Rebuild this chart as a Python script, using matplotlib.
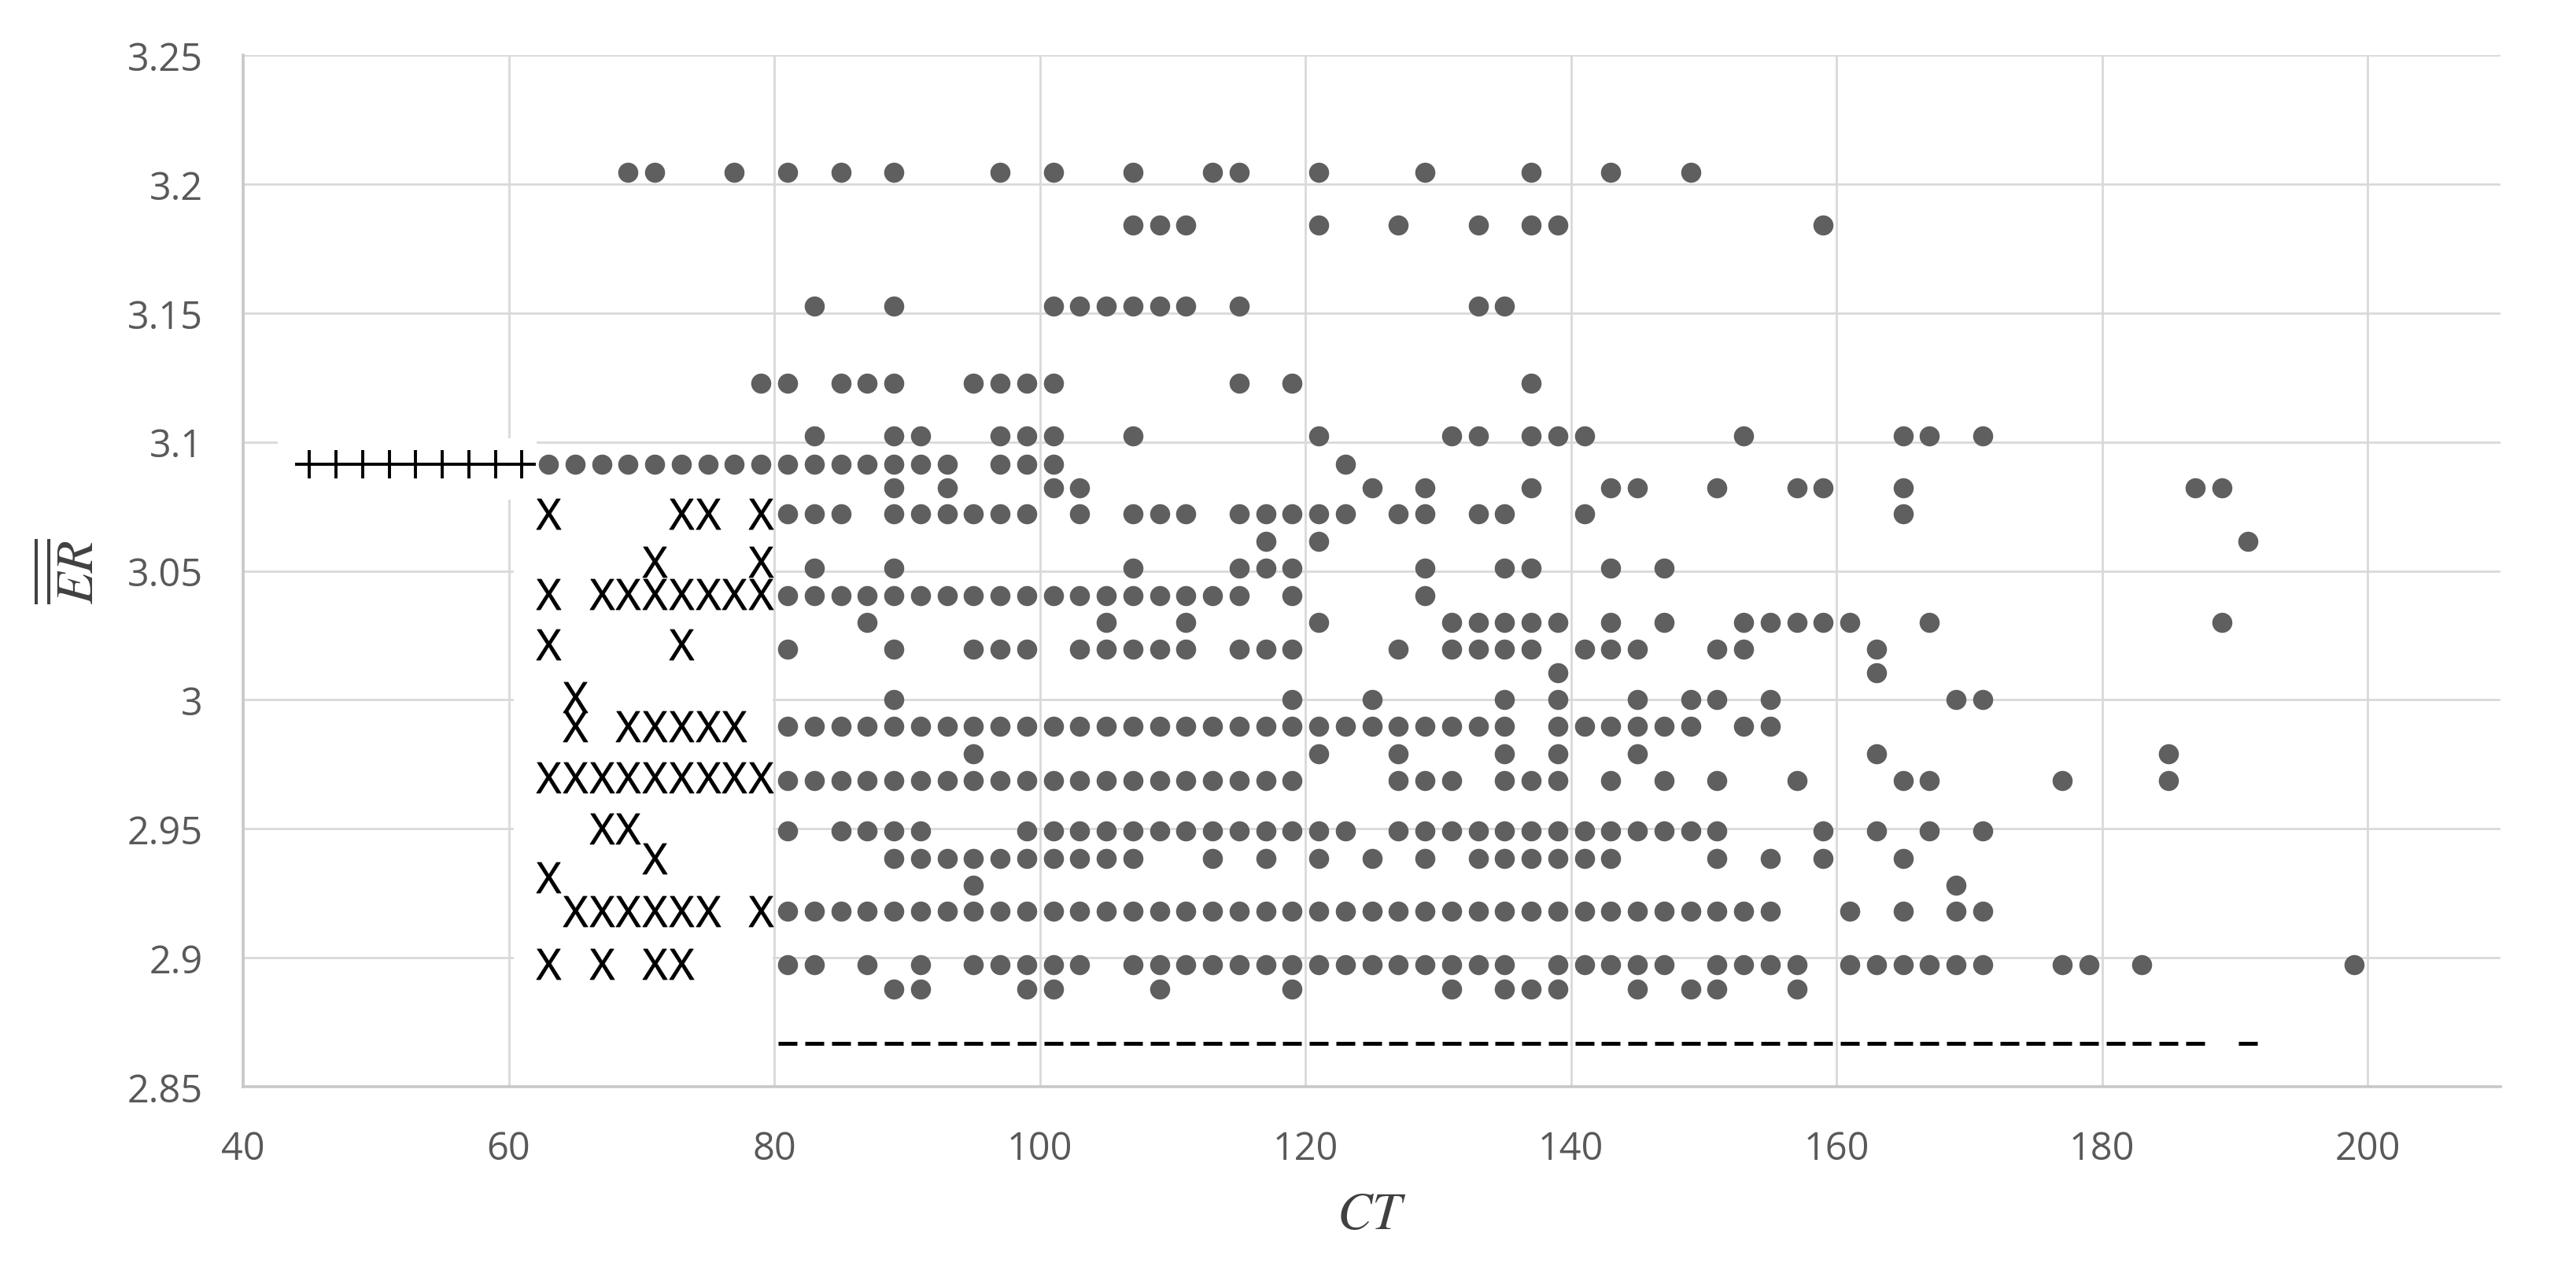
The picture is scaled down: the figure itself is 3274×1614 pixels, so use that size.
import numpy as np
import matplotlib.pyplot as plt
from matplotlib.patches import Rectangle

plt.rcParams['font.family'] = ['Open Sans', 'DejaVu Sans']
plt.rcParams['mathtext.fontset'] = 'stix'

# filled dots: one CT list per ER level
row_3205 = [69, 71, 77, 81, 85, 89, 97, 101, 107, 113, 115, 121, 129, 137, 143, 149]
row_3184 = [107, 109, 111, 121, 127, 133, 137, 139, 159]
row_3153 = [83, 89, 101, 103, 105, 107, 109, 111, 115, 133, 135]
row_3123 = [79, 81, 85, 87, 89, 95, 97, 99, 101, 115, 119, 137]
row_3102 = [83, 89, 91, 97, 99, 101, 107, 121, 131, 133, 137, 139, 141, 153, 165, 167, 171]
row_3092 = [63, 65, 67, 69, 71, 73, 75, 77, 79, 81, 83, 85, 87, 89, 91, 93, 97, 99, 101, 123]
row_3082 = [89, 93, 101, 103, 125, 129, 137, 143, 145, 151, 157, 159, 165, 187, 189]
row_3072 = [81, 83, 85, 89, 91, 93, 95, 97, 99, 103, 107, 109, 111, 115, 117, 119, 121, 123,
            127, 129, 133, 135, 141, 165]
row_3062 = [117, 121, 191]
row_3051 = [83, 89, 107, 115, 117, 119, 129, 135, 137, 143, 147]
row_3040 = [81, 83, 85, 87, 89, 91, 93, 95, 97, 99, 101, 103, 105, 107, 109, 111, 113, 115,
            119, 129]
row_3030 = [87, 105, 111, 121, 131, 133, 135, 137, 139, 143, 147, 153, 155, 157, 159, 161,
            167, 189]
row_3020 = [81, 89, 95, 97, 99, 103, 105, 107, 109, 111, 115, 117, 119, 127, 131, 133, 135,
            137, 141, 143, 145, 151, 153, 163]
row_3011 = [139, 163]
row_3000 = [89, 119, 125, 135, 139, 145, 149, 151, 155, 169, 171]
row_2990 = [81, 83, 85, 87, 89, 91, 93, 95, 97, 99, 101, 103, 105, 107, 109, 111, 113, 115,
            117, 119, 121, 123, 125, 127, 129, 131, 133, 135, 139, 141, 143, 145, 147, 149,
            153, 155]
row_2979 = [95, 121, 127, 135, 139, 145, 163, 185]
row_2969 = [81, 83, 85, 87, 89, 91, 93, 95, 97, 99, 101, 103, 105, 107, 109, 111, 113, 115,
            117, 119, 127, 129, 131, 135, 137, 139, 143, 147, 151, 157, 165, 167, 177, 185]
row_2949 = [81, 85, 87, 89, 91, 99, 101, 103, 105, 107, 109, 111, 113, 115, 117, 119, 121,
            123, 127, 129, 131, 133, 135, 137, 139, 141, 143, 145, 147, 149, 151, 159, 163,
            167, 171]
row_2939 = [89, 91, 93, 95, 97, 99, 101, 103, 105, 107, 113, 117, 121, 125, 129, 133, 135,
            137, 139, 141, 143, 151, 155, 159, 165]
row_2928 = [95, 169]
row_2918 = [81, 83, 85, 87, 89, 91, 93, 95, 97, 99, 101, 103, 105, 107, 109, 111, 113, 115,
            117, 119, 121, 123, 125, 127, 129, 131, 133, 135, 137, 139, 141, 143, 145, 147,
            149, 151, 153, 155, 161, 165, 169, 171]
row_2897 = [81, 83, 87, 91, 95, 97, 99, 101, 103, 107, 109, 111, 113, 115, 117, 119, 121,
            123, 125, 127, 129, 131, 133, 135, 139, 141, 143, 145, 147, 151, 153, 155, 157,
            161, 163, 165, 167, 169, 171, 177, 179, 183, 199]
row_2888 = [89, 91, 99, 101, 109, 119, 131, 135, 137, 139, 145, 149, 151, 157]

dot_rows = [(3.2046, row_3205), (3.1842, row_3184), (3.1528, row_3153), (3.1229, row_3123),
            (3.1022, row_3102), (3.0915, row_3092), (3.0822, row_3082), (3.0721, row_3072),
            (3.0615, row_3062), (3.0510, row_3051), (3.0403, row_3040), (3.0300, row_3030),
            (3.0196, row_3020), (3.0106, row_3011), (3.0000, row_3000), (2.9897, row_2990),
            (2.9791, row_2979), (2.9687, row_2969), (2.9491, row_2949), (2.9385, row_2939),
            (2.9280, row_2928), (2.9180, row_2918), (2.8972, row_2897), (2.8877, row_2888)]

# "X" marks
x_3072 = [63, 73, 75, 79]
x_3054 = [71, 79]
x_3041 = [63, 67, 69, 71, 73, 75, 77, 79]
x_3021 = [63, 73]
x_3001 = [65]
x_2990 = [65, 69, 71, 73, 75, 77]
x_2970 = [63, 65, 67, 69, 71, 73, 75, 77, 79]
x_2950 = [67, 69]
x_2939 = [71]
x_2931 = [63]
x_2918 = [65, 67, 69, 71, 73, 75, 79]
x_2898 = [63, 67, 71, 73]

cross_rows = [(3.0720, x_3072), (3.0535, x_3054), (3.0410, x_3041), (3.0214, x_3021),
              (3.0010, x_3001), (2.9897, x_2990), (2.9699, x_2970), (2.9500, x_2950),
              (2.9385, x_2939), (2.9313, x_2931), (2.9180, x_2918), (2.8976, x_2898)]

# "+" marks
plus_ct = [45, 47, 49, 51, 53, 55, 57, 59, 61]
plus_er = 3.0915

# "-" marks
dash_ct = [81, 83, 85, 87, 89, 91, 93, 95, 97, 99, 101, 103, 105, 107, 109, 111, 113, 115,
           117, 119, 121, 123, 125, 127, 129, 131, 133, 135, 137, 139, 141, 143, 145, 147,
           149, 151, 153, 155, 157, 159, 161, 163, 165, 167, 169, 171, 173, 175, 177, 179,
           181, 183, 185, 187, 191]
dash_er = 2.8668

xticks = [40, 60, 80, 100, 120, 140, 160, 180, 200]
yticks = [2.85, 2.9, 2.95, 3.0, 3.05, 3.1, 3.15, 3.2, 3.25]
ytick_labels = ['2.85', '2.9', '2.95', '3', '3.05', '3.1', '3.15', '3.2', '3.25']

fig = plt.figure(figsize=(16.37, 8.075), dpi=200)
ax = fig.add_axes([0.0944, 0.1443, 0.8763, 0.8117])

for lvl, cts in dot_rows:
    ax.plot(cts, [lvl] * len(cts), 'o', ms=9.2, color='#5f5f5f', mec='none', zorder=3)

for lvl, cts in cross_rows:
    ax.plot(cts, [lvl] * len(cts), marker=r'$\mathregular{X}$', ls='none', ms=14,
            color='black', mew=0.3, zorder=3)

ax.plot(plus_ct, [plus_er] * len(plus_ct), '+', ms=13, mew=1.4, color='black', zorder=3)
ax.plot(dash_ct, [dash_er] * len(dash_ct), '_', ms=8.6, mew=1.8, color='black', zorder=3)

# blank patches over the grid behind the marks on the left
ax.add_patch(Rectangle((42.6, 3.0775), 19.5, 0.024, fc='white', ec='none', zorder=1))
ax.add_patch(Rectangle((60.35, 2.8505), 19.5, 0.2295, fc='white', ec='none', zorder=1))

ax.set_xlim(40, 210)
ax.set_ylim(2.85, 3.25)
ax.set_xticks(xticks)
ax.set_yticks(yticks)
ax.set_yticklabels(ytick_labels)
ax.set_axisbelow(True)
ax.grid(True, color='#d9d9d9', lw=1.0)
for s in ['top', 'right']:
    ax.spines[s].set_visible(False)
for s in ['left', 'bottom']:
    ax.spines[s].set_color('#c8c8c8')
    ax.spines[s].set_linewidth(1.3)
ax.tick_params(axis='both', length=0, labelsize=17.5, labelcolor='#595959')
ax.tick_params(axis='y', pad=18.5)
ax.tick_params(axis='x', pad=19.5)

ax.set_xlabel(r'$CT$', fontsize=24, color='#404040', va='center')
ax.set_ylabel(r'$\overline{\overline{ER}}$', fontsize=24, color='#404040', va='center')
ax.xaxis.set_label_coords(0.5, -0.124)
ax.yaxis.set_label_coords(-0.075, 0.5)

plt.savefig('out.png', dpi=200)
